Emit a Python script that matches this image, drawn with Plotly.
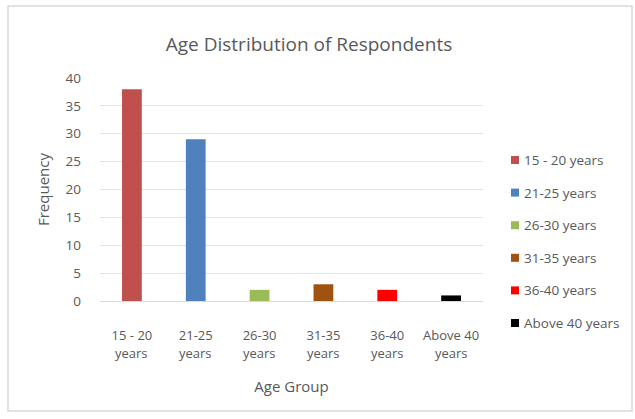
import plotly.graph_objects as go

# Age groups (two-line category labels) and respondent counts
group_top = ["15 - 20", "21-25", "26-30", "31-35", "36-40", "Above 40"]
group_bottom = ["years", "years", "years", "years", "years", "years"]
frequency = [38, 29, 2, 3, 2, 1]
bar_colors = ["#C0504D", "#4F81BD", "#9BBB59", "#A0520F", "#FF0000", "#000000"]
y_ticks = [0, 5, 10, 15, 20, 25, 30, 35, 40]

W, H = 635, 419
L, R, T, B = 100, 152, 78, 118
pw, ph = W - L - R, H - T - B

FONT = "Open Sans"
GRAY = "#595959"


def px_x(p):
    return (p - L) / pw


def px_y(p):
    return (H - B - p) / ph


fig = go.Figure()
for i, (top, bot, val, col) in enumerate(zip(group_top, group_bottom, frequency, bar_colors)):
    fig.add_trace(go.Bar(
        x=[i], y=[val], name=f"{top} {bot}",
        marker=dict(color=col, line=dict(width=0)),
        width=0.31, showlegend=False,
    ))

# second line of each category label
for i, bot in enumerate(group_bottom):
    fig.add_annotation(x=i, y=0, xref="x", yref="paper", text=bot,
                       showarrow=False, yanchor="middle", yshift=-52,
                       font=dict(family=FONT, size=13, color=GRAY))

# legend: small square swatch followed by the group name
leg_top, leg_step = 160, 32.6
for i, (top, bot, col) in enumerate(zip(group_top, group_bottom, bar_colors)):
    cy = leg_top + i * leg_step
    fig.add_shape(type="rect", xref="paper", yref="paper",
                  x0=px_x(511), x1=px_x(519), y0=px_y(cy + 4), y1=px_y(cy - 4),
                  fillcolor=col, line=dict(width=0))
    fig.add_annotation(x=px_x(522), y=px_y(cy), xref="paper", yref="paper",
                       text=f"{top} {bot}", showarrow=False,
                       xanchor="left", yanchor="middle",
                       font=dict(family=FONT, size=13.5, color=GRAY))

# chart frame
fig.add_shape(type="rect", xref="paper", yref="paper",
              x0=px_x(8), x1=px_x(632), y0=px_y(411), y1=px_y(6),
              line=dict(color="#D9D9D9", width=1.5), layer="below")

fig.update_layout(
    width=W, height=H,
    margin=dict(l=L, r=R, t=T, b=B),
    paper_bgcolor="white", plot_bgcolor="white",
    barmode="overlay",
    showlegend=False,
    title=dict(text="Age Distribution of Respondents", x=px_x(309), xref="paper",
               xanchor="center", y=1 - 44 / H, yanchor="middle",
               font=dict(family=FONT, size=19, color=GRAY)),
    font=dict(family=FONT, color=GRAY),
)

fig.update_xaxes(
    range=[-0.5, 5.5], tickmode="array", tickvals=list(range(6)), ticktext=group_top,
    showgrid=False, zeroline=False, showline=True, linecolor="#D9D9D9", linewidth=1,
    ticks="", ticklabelstandoff=22,
    tickfont=dict(family=FONT, size=13, color=GRAY),
    title=dict(text="Age Group", font=dict(family=FONT, size=15, color=GRAY), standoff=38),
    fixedrange=True,
)
fig.update_yaxes(
    range=[0, 40], tickmode="array", tickvals=y_ticks,
    showgrid=True, gridcolor="#E3E3E3", gridwidth=1, zeroline=False, showline=False,
    ticks="", ticklabelstandoff=18,
    tickfont=dict(family=FONT, size=13.5, color=GRAY),
    title=dict(text="Frequency", font=dict(family=FONT, size=15, color=GRAY), standoff=12),
    fixedrange=True,
)

fig.write_html("out.html")
